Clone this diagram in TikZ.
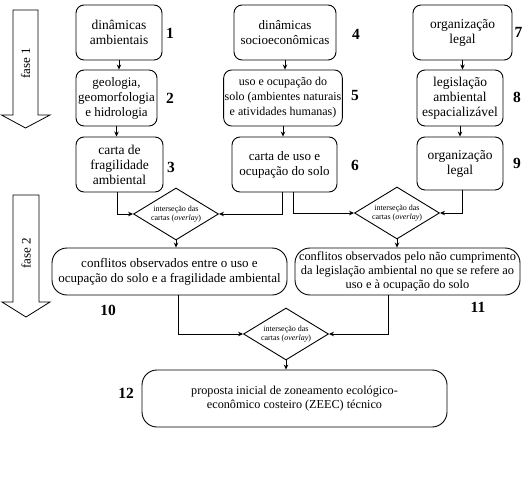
\documentclass[tikz,border=0pt]{standalone}
\usepackage{fontspec}
\setmainfont{Liberation Serif}
\usetikzlibrary{arrows.meta,shapes.geometric}
\newcommand\fsz[2]{\fontsize{#1}{#2}\selectfont}
\begin{document}
\begin{tikzpicture}[x=1pt,y=-1pt,
  box/.style={draw, line width=0.9pt, rounded corners=8pt, align=center, inner sep=1pt},
  bigbox/.style={box, rounded corners=15pt},
  dia/.style={draw, diamond, aspect=1.63, line width=0.9pt, inner sep=0pt, align=center,
    font=\fsz{8}{9}, minimum width=85pt, minimum height=52pt},
  num/.style={font=\fsz{15.5}{17}\bfseries},
  arr/.style={line width=0.8pt, -{Stealth[length=5pt,width=4.5pt]}},
  fasearrow/.style={draw, line width=0.8pt, fill=white},
  fasetext/.style={rotate=90, font=\fsz{13}{15}},
]
\useasboundingbox (0,0) rectangle (532,476);

% phase arrows
\draw[fasearrow] (13,10) -- (38,10) -- (38,115) -- (50,115) -- (25.5,128) -- (1.5,115) -- (13,115) -- cycle;
\node[fasetext] (f1) at (25.5,63) {fase 1};
\draw[fasearrow] (13,195) -- (39,195) -- (39,302) -- (50,302) -- (26,317) -- (2,302) -- (13,302) -- cycle;
\node[fasetext] (f2) at (26,253) {fase 2};

% column 1
\node[box, font=\fsz{13.5}{15}, minimum width=86pt, minimum height=55pt] (b1) at (119,32.5) {dinâmicas\\ambientais};
\node[box, font=\fsz{13}{15}, minimum width=81pt, minimum height=56pt] (b2) at (116.5,98) {geologia,\\geomorfologia\\e hidrologia};
\node[box, font=\fsz{13.5}{15}, minimum width=87pt, minimum height=55pt] (b3) at (119.5,164.5) {carta de\\fragilidade\\ambiental};

% column 2
\node[box, font=\fsz{13}{15}, minimum width=102pt, minimum height=55pt] (b4) at (285,32.5) {dinâmicas\\socioeconômicas};
\node[box, font=\fsz{12}{15}, minimum width=118pt, minimum height=56pt] (b5) at (283,98) {uso e ocupação do\\solo (ambientes naturais\\e atividades humanas)};
\node[box, font=\fsz{13}{15}, minimum width=105pt, minimum height=55pt] (b6) at (284.5,164.5) {carta de uso e\\ocupação do solo};

% column 3
\node[box, font=\fsz{13.5}{15}, minimum width=99pt, minimum height=55pt] (b7) at (462.5,32.5) {organização\\legal};
\node[box, font=\fsz{13.5}{15}, minimum width=86pt, minimum height=56pt] (b8) at (460,98) {legislação\\ambiental\\espacializável};
\node[box, font=\fsz{13.5}{15}, minimum width=86pt, minimum height=53pt] (b9) at (460,163.5) {organização\\legal};

% numbers
\node[num] (n1) at (170,33) {1};
\node[num] (n2) at (170,98) {2};
\node[num] (n3) at (171,167) {3};
\node[num] (n4) at (356,34) {4};
\node[num] (n5) at (355,96) {5};
\node[num] (n6) at (355,165) {6};
\node[num] (n7) at (518.5,32) {7};
\node[num] (n8) at (517,97) {8};
\node[num] (n9) at (517,163) {9};
\node[num] (n10) at (108,310) {10};
\node[num] (n11) at (478,307) {11};
\node[num] (n12) at (126,393) {12};

% diamonds
\node[dia] (d1) at (176,214) {interseção das\\cartas (\textit{overlay})};
\node[dia] (d2) at (397,213) {interseção das\\cartas (\textit{overlay})};
\node[dia] (d3) at (286,334) {interseção das\\cartas (\textit{overlay})};

% big boxes
\node[bigbox, font=\fsz{13}{15}, minimum width=235pt, minimum height=47pt] (b10) at (169.5,271.5) {conflitos observados entre o uso e\\ocupação do solo e a fragilidade ambiental};
\node[bigbox, font=\fsz{12.4}{14}, minimum width=225pt, minimum height=47pt] (b11) at (407.5,271.5) {conflitos observados pelo não cumprimento\\da legislação ambiental no que se refere ao\\uso e à ocupação do solo};
\node[bigbox, font=\fsz{12.2}{13.5}, minimum width=305pt, minimum height=57pt] (b12) at (294.5,398.5) {proposta inicial de zoneamento ecológico-\\econômico costeiro (ZEEC) técnico};

% connectors
\draw[arr] (b1.south) -- (b1.south |- b2.north);
\draw[arr] (b2.south) -- (b2.south |- b3.north);
\draw[arr] (b4.south) -- (b4.south |- b5.north);
\draw[arr] (b5.south) -- (b5.south |- b6.north);
\draw[arr] (b7.south) -- (b7.south |- b8.north);
\draw[arr] (b8.south) -- (b8.south |- b9.north);

\draw[arr] ([xshift=-2.5pt]b3.south) |- (d1.west);
\draw[arr] ([xshift=-2pt]b6.south) |- (d1.east);
\draw[arr] ([xshift=8.5pt]b6.south) |- (d2.west);
\draw[arr] ([xshift=2pt]b9.south) |- (d2.east);

\draw[arr] (d1.south) -- (d1.south |- b10.north);
\draw[arr] (d2.south) -- (d2.south |- b11.north);
\draw[arr] ([xshift=8.5pt]b10.south) |- (d3.west);
\draw[arr] ([xshift=-19.5pt]b11.south) |- (d3.east);
\draw[arr] (d3.south) -- (d3.south |- b12.north);
\end{tikzpicture}
\end{document}
